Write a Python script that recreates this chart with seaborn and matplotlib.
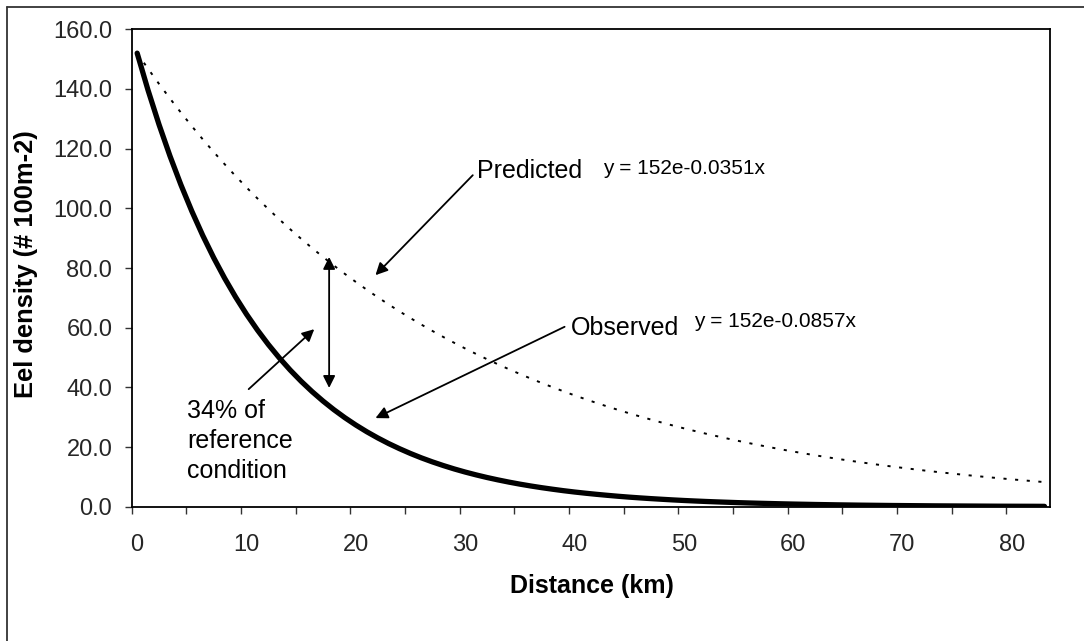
import matplotlib
matplotlib.use("Agg")
import matplotlib.pyplot as plt
import numpy as np
import pandas as pd
import seaborn as sns
from matplotlib.lines import Line2D
from matplotlib.ticker import FuncFormatter

# Eel density along the river, one value per km
distance_km = list(range(84))

observed = [152.00, 139.52, 128.06, 117.54, 107.89, 99.03, 90.89, 83.43, 76.58, 70.29,
            64.51, 59.22, 54.35, 49.89, 45.79, 42.03, 38.58, 35.41, 32.50, 29.83,
            27.38, 25.13, 23.07, 21.17, 19.44, 17.84, 16.37, 15.03, 13.80, 12.66,
            11.62, 10.67, 9.79, 8.99, 8.25, 7.57, 6.95, 6.38, 5.86, 5.37,
            4.93, 4.53, 4.16, 3.82, 3.50, 3.21, 2.95, 2.71, 2.49, 2.28,
            2.09, 1.92, 1.76, 1.62, 1.49, 1.36, 1.25, 1.15, 1.06, 0.97,
            0.89, 0.82, 0.75, 0.69, 0.63, 0.58, 0.53, 0.49, 0.45, 0.41,
            0.38, 0.35, 0.32, 0.29, 0.27, 0.25, 0.23, 0.21, 0.19, 0.17,
            0.16, 0.15, 0.14, 0.12]

predicted = [152.00, 146.76, 141.70, 136.81, 132.09, 127.53, 123.13, 118.89, 114.79, 110.83,
             107.01, 103.31, 99.75, 96.31, 92.99, 89.78, 86.69, 83.70, 80.81, 78.02,
             75.33, 72.73, 70.22, 67.80, 65.46, 63.21, 61.03, 58.92, 56.89, 54.93,
             53.03, 51.20, 49.44, 47.73, 46.09, 44.50, 42.96, 41.48, 40.05, 38.67,
             37.33, 36.05, 34.80, 33.60, 32.44, 31.32, 30.24, 29.20, 28.19, 27.22,
             26.28, 25.38, 24.50, 23.66, 22.84, 22.05, 21.29, 20.56, 19.85, 19.16,
             18.50, 17.86, 17.25, 16.65, 16.08, 15.52, 14.99, 14.47, 13.97, 13.49,
             13.03, 12.58, 12.14, 11.72, 11.32, 10.93, 10.55, 10.19, 9.84, 9.50,
             9.17, 8.86, 8.55, 8.25]

x_label_values = [0, 10, 20, 30, 40, 50, 60, 70, 80]
y_tick_values = [0, 20, 40, 60, 80, 100, 120, 140, 160]

df = pd.DataFrame({"Distance": distance_km, "Observed": observed, "Predicted": predicted})

sns.set_theme(style="white")
plt.rcParams["font.family"] = ["Liberation Sans", "DejaVu Sans"]
plt.rcParams["text.color"] = "black"

fig = plt.figure(figsize=(10.84, 6.41), dpi=100)
ax = fig.add_axes([0.1215, 0.2095, 0.8471, 0.7448])

sns.lineplot(data=df, x="Distance", y="Predicted", color="black", lw=1.4,
             linestyle=(0, (1.6, 4.4)), ax=ax)
sns.lineplot(data=df, x="Distance", y="Observed", color="black", lw=3.8,
             solid_capstyle="round", ax=ax)

ax.set_xlim(-0.5, 83.5)
ax.set_ylim(0, 160)
ax.set_xlabel("")
ax.set_ylabel("")

# category-style x axis: labels at km centres, tick marks between categories
ax.set_xticks(x_label_values)
ax.set_xticklabels([str(v) for v in x_label_values])
ax.set_xticks(np.arange(-0.5, 80, 5), minor=True)
ax.tick_params(axis="x", which="major", length=0, pad=20, labelsize=17)
ax.tick_params(axis="x", which="minor", length=5, width=1, direction="out",
               bottom=True, color="#333333")

ax.set_yticks(y_tick_values)
ax.yaxis.set_major_formatter(FuncFormatter(lambda v, p: f"{v:.1f}"))
ax.tick_params(axis="y", which="major", length=5, width=1, direction="out",
               left=True, pad=9, labelsize=17, color="#333333")

for side in ["left", "right", "top", "bottom"]:
    ax.spines[side].set_visible(True)
    ax.spines[side].set_color("black")
    ax.spines[side].set_linewidth(1.3)

fig.text(592 / 1084, 1 - 586 / 641, "Distance (km)", fontsize=18, fontweight="bold",
         ha="center", va="center")
fig.text(26.5 / 1084, 1 - 264 / 641, "Eel density (# 100m-2)", fontsize=18.4,
         fontweight="bold", rotation=90, ha="center", va="center")

arrow = dict(arrowstyle="-|>", color="black", lw=1.3, mutation_scale=18,
             shrinkA=0, shrinkB=0)

# Predicted curve callout
ax.annotate("", xy=(21.8, 77.6), xytext=(30.7, 111.1), arrowprops=arrow)
ax.text(31.1, 112.4, "Predicted", fontsize=18, ha="left", va="center")
ax.text(42.6, 113.4, "y = 152e-0.0351x", fontsize=15, ha="left", va="center")

# Observed curve callout
ax.annotate("", xy=(21.8, 29.7), xytext=(39.1, 60.3), arrowprops=arrow)
ax.text(39.7, 60.0, "Observed", fontsize=18, ha="left", va="center")
ax.text(50.9, 62.0, "y = 152e-0.0857x", fontsize=15, ha="left", va="center")

# gap between predicted and observed
ax.annotate("", xy=(17.56, 83.7), xytext=(17.56, 39.8),
            arrowprops=dict(arrowstyle="<|-|>", color="black", lw=1.3,
                            mutation_scale=18, shrinkA=0, shrinkB=0))
ax.annotate("", xy=(16.2, 59.5), xytext=(10.2, 39.4), arrowprops=arrow)
ax.text(4.57, 22.0, "34% of\nreference\ncondition", fontsize=18, ha="left",
        va="center", linespacing=1.3)

# chart frame
x0 = 7 / 1084
y_top = 1 - 7 / 641
fig.add_artist(Line2D([x0, x0], [0, y_top], color="#333333", lw=1.3))
fig.add_artist(Line2D([x0, 1], [y_top, y_top], color="#333333", lw=1.3))

fig.savefig("out.png", dpi=100)
